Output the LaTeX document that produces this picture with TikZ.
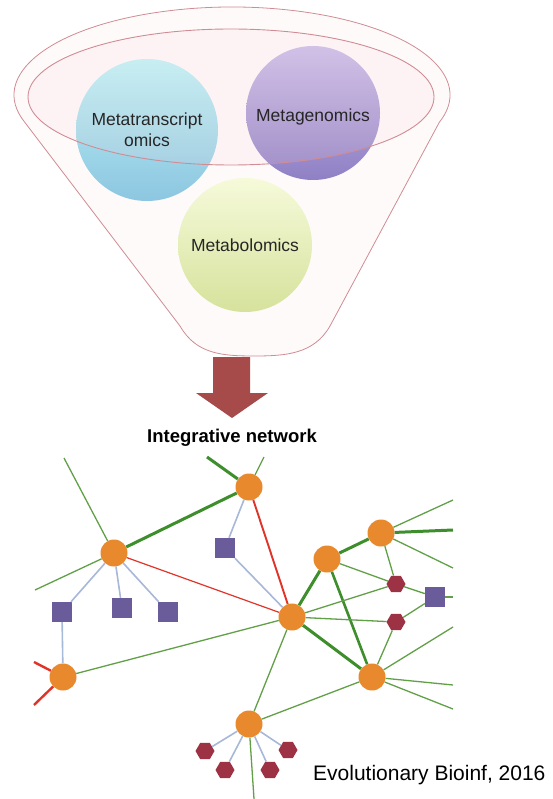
\documentclass[tikz,border=0pt]{standalone}
\usepackage{fontspec}
\setmainfont{Liberation Sans}
\usetikzlibrary{shapes.geometric}

\definecolor{funnelline}{HTML}{D08C94}
\definecolor{funnelfill}{HTML}{FFFAFA}
\definecolor{rimfill}{HTML}{F6D2D6}
\definecolor{cyanTop}{HTML}{BFF4F8}
\definecolor{cyanBot}{HTML}{8CC6E0}
\definecolor{lilacTop}{HTML}{CBBEEA}
\definecolor{lilacBot}{HTML}{8E80C4}
\definecolor{limeTop}{HTML}{F6FADA}
\definecolor{limeBot}{HTML}{D6E29C}
\definecolor{arrowred}{HTML}{A64A4A}
\definecolor{hubor}{HTML}{E8892E}
\definecolor{boxpurple}{HTML}{6A5C9A}
\definecolor{metred}{HTML}{9C3244}
\definecolor{thingreen}{HTML}{62A048}
\definecolor{thickgreen}{HTML}{3E8E2C}
\definecolor{linkred}{HTML}{E0342A}
\definecolor{linkblue}{HTML}{A8B8D8}

\tikzset{
  omic/.style={circle, minimum size=#1, inner sep=0pt},
  omiclabel/.style={font=\fontsize{17.5}{21}\selectfont, align=center, text=black!85},
  hub/.style={circle, fill=hubor, minimum size=27pt, inner sep=0pt},
  box/.style={rectangle, fill=boxpurple, minimum size=20pt, inner sep=0pt},
  met/.style={regular polygon, regular polygon sides=6, fill=metred, minimum size=19pt, inner sep=0pt},
  thin link/.style={draw=thingreen, line width=1.3pt},
  thick link/.style={draw=thickgreen, line width=3pt},
  red link/.style={draw=linkred, line width=1.9pt},
  redthin link/.style={draw=linkred, line width=1.2pt},
  blue link/.style={draw=linkblue, line width=1.6pt},
}

\begin{document}
\begin{tikzpicture}[x=1pt,y=-1pt]
\useasboundingbox[fill=white] (0,0) rectangle (552,799);

% ---- funnel ----
\filldraw[draw=funnelline, fill=funnelfill, line width=0.8pt]
  (24.7,122.2) arc[start angle=162, end angle=378, x radius=218, y radius=88]
  -- (330,326) .. controls (314,354) and (286,356) .. (254,356)
  .. controls (222,356) and (196,354) .. (180,326) -- cycle;

% the three omics spheres
\node[omic=142pt, top color=cyanTop, bottom color=cyanBot] (mt) at (147,130) {};
\node[omic=134pt, top color=lilacTop, bottom color=lilacBot] (mg) at (313,113) {};
\node[omic=134pt, top color=limeTop, bottom color=limeBot] (mb) at (245,245) {};

% funnel rim, laid over the spheres
\fill[rimfill, fill opacity=0.16] (231,97) ellipse[x radius=203, y radius=68];
\draw[funnelline, line width=0.9pt] (231,97) ellipse[x radius=203, y radius=68];

\node[omiclabel] (mtlabel) at (mt) {Metatranscript\\omics};
\node[omiclabel] (mglabel) at ([yshift=-4pt]mg.center) {Metagenomics};
\node[omiclabel] (mblabel) at (mb) {Metabolomics};

% ---- block arrow ----
\fill[arrowred] (213,357) -- (250,357) -- (250,393) -- (268,393) -- (232,418)
  -- (196,393) -- (213,393) -- cycle;

\node[font=\bfseries\fontsize{18.5}{22}\selectfont] (title) at (232,438) {Integrative network};

% ---- network nodes ----
\node[hub] (A) at (249,487) {};
\node[hub] (B) at (114,553) {};
\node[hub] (C) at (292,617) {};
\node[hub] (D) at (327,559) {};
\node[hub] (E) at (381,533) {};
\node[hub] (F) at (372,677) {};
\node[hub] (G) at (63,677) {};
\node[hub] (H) at (249,724) {};

\node[box] (S1) at (225,548) {};
\node[box] (S2) at (62,612) {};
\node[box] (S3) at (122,608) {};
\node[box] (S4) at (168,612) {};
\node[box] (S5) at (435,597) {};

\node[met] (P1) at (396,584) {};
\node[met] (P2) at (396,622) {};
\node[met] (M1) at (205,751) {};
\node[met] (M2) at (225,770) {};
\node[met] (M3) at (270,770) {};
\node[met] (M4) at (288,750) {};

% free ends of edges leaving the drawing
\coordinate (a1) at (207,457);
\coordinate (a2) at (264,457);
\coordinate (b1) at (64,458);
\coordinate (b2) at (35,590);
\coordinate (g1) at (34,662);
\coordinate (g2) at (34,705);
\coordinate (e1) at (453,500);
\coordinate (e2) at (453,530);
\coordinate (e3) at (453,568);
\coordinate (s1) at (453,597);
\coordinate (f1) at (453,627);
\coordinate (f2) at (453,685);
\coordinate (f3) at (453,709);
\coordinate (h1) at (254,799);

% ---- network edges ----
\draw[thick link] (A) -- (a1);
\draw[thin link] (A) -- (a2);
\draw[thick link] (A) -- (B);
\draw[thin link] (B) -- (b1);
\draw[thin link] (B) -- (b2);
\draw[blue link] (A) -- (S1);
\draw[red link] (A) -- (C);
\draw[redthin link] (B) -- (C);
\draw[blue link] (S1) -- (C);
\draw[blue link] (B) -- (S2);
\draw[blue link] (B) -- (S3);
\draw[blue link] (B) -- (S4);
\draw[blue link] (S2) -- (G);
\draw[red link, line width=2.4pt] (G) -- (g1);
\draw[red link, line width=2.4pt] (G) -- (g2);
\draw[thin link] (G) -- (C);
\draw[thick link] (C) -- (D);
\draw[thick link] (C) -- (F);
\draw[thick link, line width=2.6pt] (D) -- (F);
\draw[thick link] (D) -- (E);
\draw[thin link] (D) -- (P1);
\draw[thin link] (C) -- (P1);
\draw[thin link] (C) -- (P2);
\draw[thin link] (E) -- (P1);
\draw[thin link] (P1) -- (S5);
\draw[thin link] (P2) -- (S5);
\draw[thin link] (P2) -- (F);
\draw[thin link] (S5) -- (s1);
\draw[thin link] (E) -- (e1);
\draw[thick link] (E) -- (e2);
\draw[thin link] (E) -- (e3);
\draw[thin link] (F) -- (f1);
\draw[thin link] (F) -- (f2);
\draw[thin link] (F) -- (f3);
\draw[thin link] (C) -- (H);
\draw[thin link] (H) -- (F);
\draw[thin link] (H) -- (h1);
\draw[blue link] (H) -- (M1);
\draw[blue link] (H) -- (M2);
\draw[blue link] (H) -- (M3);
\draw[blue link] (H) -- (M4);

% ---- source ----
\node[font=\fontsize{21}{24}\selectfont, anchor=east] (src) at (549,775) {Evolutionary Bioinf, 2016};
\end{tikzpicture}
\end{document}
